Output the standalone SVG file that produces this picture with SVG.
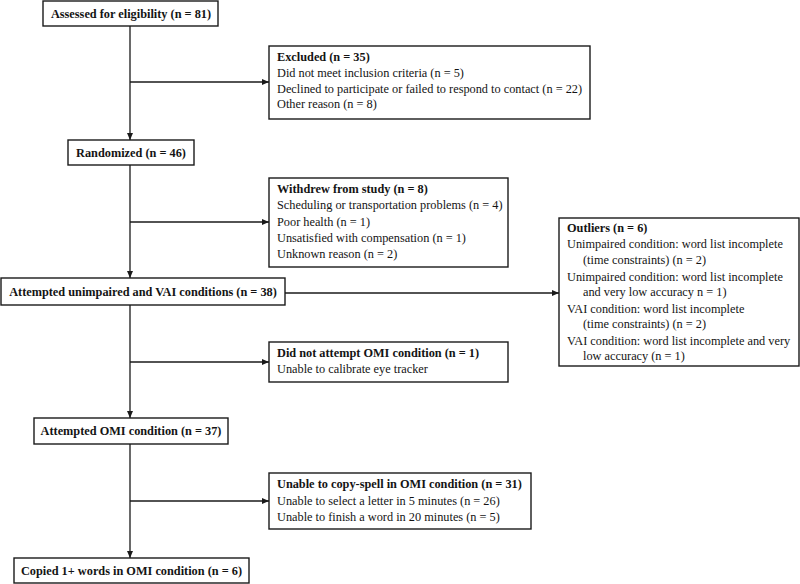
<svg xmlns="http://www.w3.org/2000/svg" width="800" height="584" viewBox="0 0 800 584">
<defs>
<style>
.box{fill:#fff;stroke:#1a1a1a;stroke-width:1.4}
.t{font-family:"Liberation Serif","Times New Roman",serif;font-size:12.3px;fill:#141414}
.b{font-weight:bold}
.c{text-anchor:middle}
.ln{stroke:#1a1a1a;stroke-width:1.3;fill:none}
</style>
<marker id="ar" markerWidth="7" markerHeight="6" refX="7" refY="3" orient="auto" markerUnits="userSpaceOnUse">
<path d="M0,0 L7,3 L0,6 z" fill="#1a1a1a"/>
</marker>
</defs>
<rect width="800" height="584" fill="#fff"/>
<g id="connectors">
<line class="ln" x1="130" y1="26" x2="130" y2="140" marker-end="url(#ar)"/>
<line class="ln" x1="130" y1="82" x2="269" y2="82" marker-end="url(#ar)"/>
<line class="ln" x1="130" y1="165" x2="130" y2="278" marker-end="url(#ar)"/>
<line class="ln" x1="130" y1="222" x2="269" y2="222" marker-end="url(#ar)"/>
<line class="ln" x1="285" y1="293" x2="559" y2="293" marker-end="url(#ar)"/>
<line class="ln" x1="130" y1="305" x2="130" y2="418" marker-end="url(#ar)"/>
<line class="ln" x1="130" y1="362" x2="269" y2="362" marker-end="url(#ar)"/>
<line class="ln" x1="130" y1="444" x2="130" y2="558" marker-end="url(#ar)"/>
<line class="ln" x1="130" y1="501" x2="269" y2="501" marker-end="url(#ar)"/>
</g>
<g id="assessed">
<rect class="box" x="43" y="1" width="175" height="25"/>
<text class="t b c" x="131" y="17.5">Assessed for eligibility (n = 81)</text>
</g>
<g id="excluded">
<rect class="box" x="269" y="46" width="321" height="73"/>
<text class="t b" x="277" y="61">Excluded (n = 35)</text>
<text class="t" x="277" y="77">Did not meet inclusion criteria (n = 5)</text>
<text class="t" x="277" y="93">Declined to participate or failed to respond to contact (n = 22)</text>
<text class="t" x="277" y="108">Other reason (n = 8)</text>
</g>
<g id="randomized">
<rect class="box" x="68" y="140" width="126" height="25"/>
<text class="t b c" x="131" y="156.5">Randomized (n = 46)</text>
</g>
<g id="withdrew">
<rect class="box" x="269" y="178" width="239" height="89"/>
<text class="t b" x="277" y="193">Withdrew from study (n = 8)</text>
<text class="t" x="277" y="209">Scheduling or transportation problems (n = 4)</text>
<text class="t" x="277" y="226">Poor health (n = 1)</text>
<text class="t" x="277" y="242">Unsatisfied with compensation (n = 1)</text>
<text class="t" x="277" y="258">Unknown reason (n = 2)</text>
</g>
<g id="attempted-unimpaired">
<rect class="box" x="1" y="278" width="284" height="27"/>
<text class="t b c" x="143" y="296">Attempted unimpaired and VAI conditions (n = 38)</text>
</g>
<g id="outliers">
<rect class="box" x="559" y="218" width="240" height="148"/>
<text class="t b" x="567" y="232">Outliers (n = 6)</text>
<text class="t" x="567" y="248">Unimpaired condition: word list incomplete</text>
<text class="t" x="583" y="264">(time constraints) (n = 2)</text>
<text class="t" x="567" y="281">Unimpaired condition: word list incomplete</text>
<text class="t" x="583" y="296">and very low accuracy n = 1)</text>
<text class="t" x="567" y="313">VAI condition: word list incomplete</text>
<text class="t" x="583" y="328">(time constraints) (n = 2)</text>
<text class="t" x="567" y="345">VAI condition: word list incomplete and very</text>
<text class="t" x="583" y="360">low accuracy (n = 1)</text>
</g>
<g id="did-not-attempt">
<rect class="box" x="269" y="342" width="239" height="40"/>
<text class="t b" x="277" y="357">Did not attempt OMI condition (n = 1)</text>
<text class="t" x="277" y="373">Unable to calibrate eye tracker</text>
</g>
<g id="attempted-omi">
<rect class="box" x="34" y="418" width="194" height="26"/>
<text class="t b c" x="131" y="435">Attempted OMI condition (n = 37)</text>
</g>
<g id="unable">
<rect class="box" x="269" y="473" width="262" height="56"/>
<text class="t b" x="277" y="488">Unable to copy-spell in OMI condition (n = 31)</text>
<text class="t" x="277" y="505">Unable to select a letter in 5 minutes (n = 26)</text>
<text class="t" x="277" y="521">Unable to finish a word in 20 minutes (n = 5)</text>
</g>
<g id="copied">
<rect class="box" x="14" y="558" width="235" height="25"/>
<text class="t b c" x="131.5" y="574.5">Copied 1+ words in OMI condition (n = 6)</text>
</g>
</svg>
